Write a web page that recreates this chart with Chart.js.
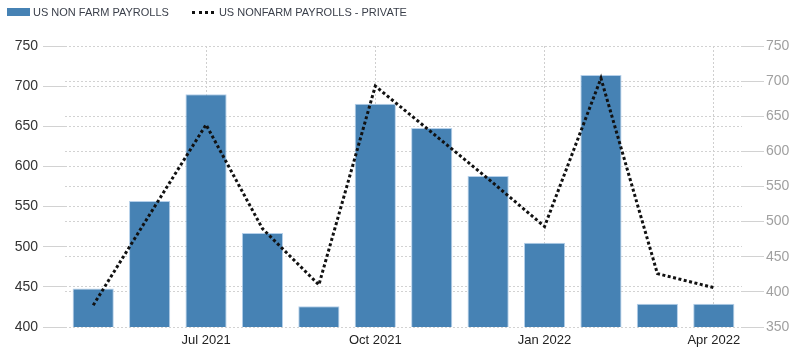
<!DOCTYPE html>
<html>
<head>
<meta charset="utf-8">
<script src="https://cdn.jsdelivr.net/npm/chart.js@4/dist/chart.umd.min.js"></script>
<style>
    html, body { margin: 0; padding: 0; background: #fff; }
    #wrap { position: relative; width: 800px; height: 353px; }
    #legend { position: absolute; left: 7px; top: 6px; font: 11px "Liberation Sans", Arial, sans-serif; color: #3a3f4a; display: flex; align-items: center; }
    .item { display: flex; align-items: center; margin-right: 23px; }
    .box { width: 23px; height: 8px; background: #4682b4; margin-right: 3px; }
    .dots { width: 22px; height: 0; border-top: 3px dotted #111; margin-right: 5px; }
</style>
</head>
<body>
<div id="wrap">
    <canvas id="chart" width="800" height="353"></canvas>
    <div id="legend">
        <div class="item"><span class="box"></span>US NON FARM PAYROLLS</div>
        <div class="item"><span class="dots"></span>US NONFARM PAYROLLS - PRIVATE</div>
    </div>
</div>
<script>
// Data (ribuan)
const bulan = ['May 2021', 'Jun 2021', 'Jul 2021', 'Aug 2021', 'Sep 2021', 'Oct 2021',
    'Nov 2021', 'Dec 2021', 'Jan 2022', 'Feb 2022', 'Mar 2022', 'Apr 2022'];
const nfp = [448, 557, 690, 517, 426, 678, 648, 588, 505, 714, 429, 429];
const nfpPrivate = [381, 510, 638, 490, 410, 693, 627, 561, 493, 704, 426, 406];
const labelTampil = ['Jul 2021', 'Oct 2021', 'Jan 2022', 'Apr 2022'];

const fontDasar = "'Liberation Sans', Arial, sans-serif";

new Chart(document.getElementById('chart'), {
    data: {
        labels: bulan,
        datasets: [
            {
                type: 'line',
                label: 'US NONFARM PAYROLLS - PRIVATE',
                data: nfpPrivate,
                yAxisID: 'yKanan',
                borderColor: '#111',
                borderWidth: 3,
                borderDash: [3, 2.5],
                pointRadius: 0,
                tension: 0,
                fill: false,
                order: 0,
            },
            {
                type: 'bar',
                label: 'US NON FARM PAYROLLS',
                data: nfp,
                yAxisID: 'yKiri',
                backgroundColor: '#4682b4',
                borderColor: '#b5d0ea',
                borderWidth: 1,
                barPercentage: 0.73,
                categoryPercentage: 1,
                order: 1,
            },
        ],
    },
    options: {
        responsive: false,
        animation: false,
        layout: { padding: { top: 46, left: 0, right: 0, bottom: 0 } },
        plugins: { legend: { display: false }, tooltip: { enabled: false } },
        scales: {
            x: {
                offset: true,
                grid: {
                    offset: false,
                    drawTicks: false,
                    color: (ctx) => labelTampil.includes(bulan[ctx.index]) ? '#cfcfcf' : 'rgba(0,0,0,0)',
                },
                border: { display: false, dash: [2, 2] },
                ticks: {
                    autoSkip: false,
                    maxRotation: 0,
                    padding: 6,
                    color: '#222',
                    font: { family: fontDasar, size: 13 },
                    callback: function (val, i) { return labelTampil.includes(bulan[i]) ? bulan[i] : ''; },
                },
                afterFit: (s) => { s.height = 26; },
            },
            yKiri: {
                position: 'left',
                min: 400, max: 750,
                ticks: { stepSize: 50, padding: 5, color: '#333', font: { family: fontDasar, size: 14 } },
                grid: { color: '#d2d2d2', tickLength: 22 },
                border: { display: false, dash: [2, 2] },
                afterFit: (s) => { s.width = 65; },
            },
            yKanan: {
                position: 'right',
                min: 350, max: 750,
                ticks: { stepSize: 50, padding: 2, color: '#a0a0a0', font: { family: fontDasar, size: 14 } },
                grid: { color: '#d2d2d2', tickLength: 22 },
                border: { display: false, dash: [2, 2] },
                afterFit: (s) => { s.width = 58; },
            },
        },
    },
});
</script>
</body>
</html>
